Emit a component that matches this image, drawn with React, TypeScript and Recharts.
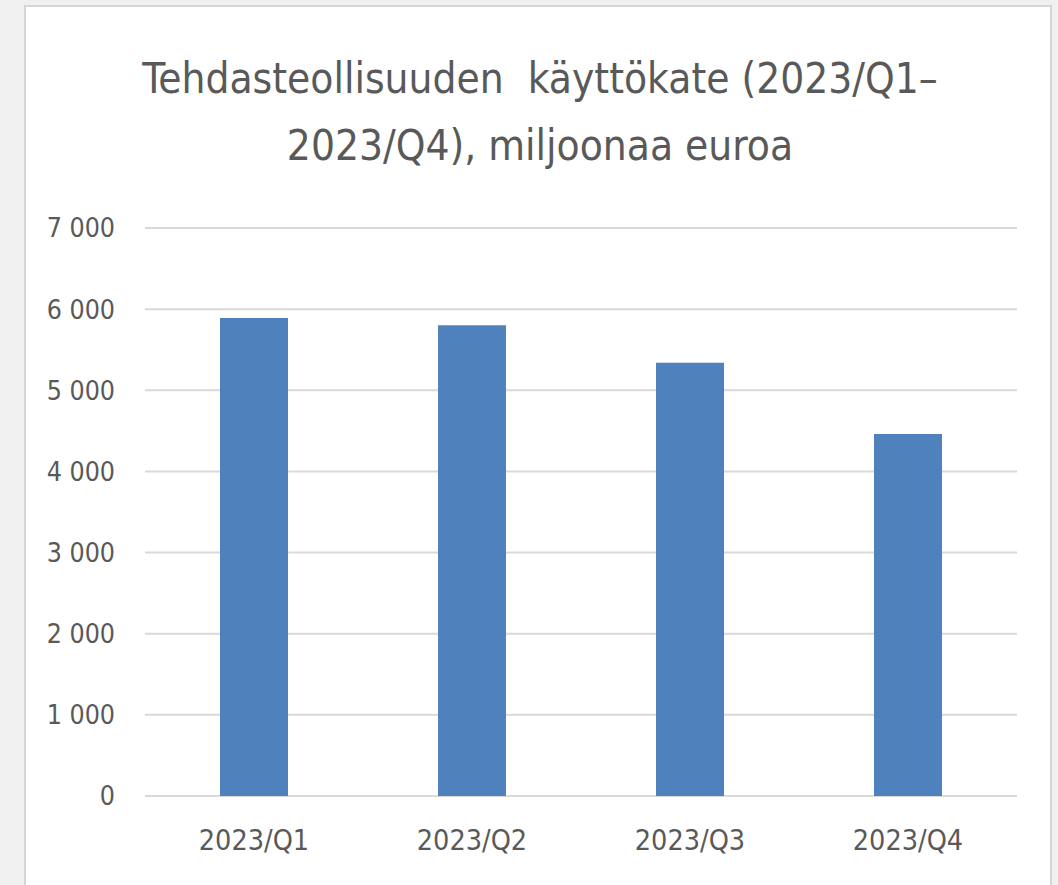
import { BarChart, Bar, XAxis, YAxis, CartesianGrid } from "recharts";

const categories = ["2023/Q1", "2023/Q2", "2023/Q3", "2023/Q4"];
const values = [5890, 5800, 5340, 4460];
const yTicks = [0, 1000, 2000, 3000, 4000, 5000, 6000, 7000];
const titleLines = ["Tehdasteollisuuden  käyttökate (2023/Q1–", "2023/Q4), miljoonaa euroa"];

const data = categories.map((name, i) => ({ name, value: values[i] }));

const FONT = "'DejaVu Sans Condensed', sans-serif";
const TEXT = "#595959";

const fmt = (v: number) => (v >= 1000 ? `${Math.floor(v / 1000)} ${String(v % 1000).padStart(3, "0")}` : String(v));

export default function App() {
  return (
    <div style={{ position: "absolute", left: 0, top: 0, width: 1058, height: 885, background: "#f0f0f0", overflow: "hidden" }}>
      <div
        style={{
          position: "absolute",
          left: 24,
          top: 5,
          width: 1024,
          height: 920,
          background: "#fff",
          border: "2px solid #d6d6d6",
        }}
      />
      <div
        style={{
          position: "absolute",
          left: 0,
          top: 45,
          width: 1080,
          textAlign: "center",
          fontFamily: FONT,
          fontSize: 42,
          lineHeight: "67px",
          color: TEXT,
          whiteSpace: "pre",
        }}
      >
        {titleLines.map((l) => (
          <div key={l}>{l}</div>
        ))}
      </div>
      <div style={{ position: "absolute", left: 0, top: 0 }}>
        <BarChart width={1058} height={885} data={data} margin={{ top: 228, right: 41, bottom: 0, left: 0 }} barCategoryGap="34.4%">
          <CartesianGrid vertical={false} stroke="#d9d9d9" strokeWidth={2} />
          <XAxis
            dataKey="name"
            axisLine={false}
            tickLine={false}
            height={89}
            tickMargin={28}
            tick={{ fill: TEXT, fontSize: 28.5, fontFamily: FONT }}
          />
          <YAxis
            width={145}
            domain={[0, 7000]}
            ticks={yTicks}
            axisLine={false}
            tickLine={false}
            tickMargin={24}
            tickFormatter={fmt}
            tick={{ fill: TEXT, fontSize: 26.5, fontFamily: FONT }}
          />
          <Bar dataKey="value" fill="#4f81bd" isAnimationActive={false} />
        </BarChart>
      </div>
    </div>
  );
}
